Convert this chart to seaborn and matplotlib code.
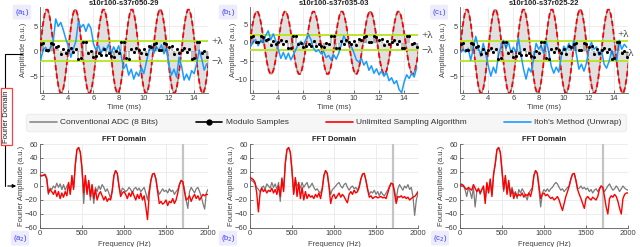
import numpy as np
import matplotlib
matplotlib.use("Agg")
import matplotlib.pyplot as plt
import seaborn as sns
from matplotlib.lines import Line2D
from matplotlib.patches import FancyArrowPatch
from matplotlib.legend_handler import HandlerLine2D

# ---- time domain data (ms, a.u.) ----
time_signal = np.linspace(1.7375, 15.2375, 109)
signal = [
    0, 2.91, 5.46, 7.36, 8.37, 8.37, 7.36, 5.46, 2.91, 0, -2.91, -5.46, -7.36, -8.37, -8.37, -7.36, -5.46, -2.91,
    0, 2.91, 5.46, 7.36, 8.37, 8.37, 7.36, 5.46, 2.91, 0, -2.91, -5.46, -7.36, -8.37, -8.37, -7.36, -5.46, -2.91,
    0, 2.91, 5.46, 7.36, 8.37, 8.37, 7.36, 5.46, 2.91, 0, -2.91, -5.46, -7.36, -8.37, -8.37, -7.36, -5.46, -2.91,
    0, 2.91, 5.46, 7.36, 8.37, 8.37, 7.36, 5.46, 2.91, 0, -2.91, -5.46, -7.36, -8.37, -8.37, -7.36, -5.46, -2.91,
    0, 2.91, 5.46, 7.36, 8.37, 8.37, 7.36, 5.46, 2.91, 0, -2.91, -5.46, -7.36, -8.37, -8.37, -7.36, -5.46, -2.91,
    0, 2.91, 5.46, 7.36, 8.37, 8.37, 7.36, 5.46, 2.91, 0, -2.91, -5.46, -7.36, -8.37, -8.37, -7.36, -5.46, -2.91,
    0,
]

time_samples = np.linspace(1.8, 15.0, 67)
modulo_samples = [
    1.48, 1.69, 0.17, 0.17, 1.69, 1.48, 0.82, 1.12, -0.48, 0.49,
    -0.25, 0.30, 0.75, -0.23, 0.42, -1.49, -1.37, 1.94, 1.89, -0.31,
    0.01, -1.23, -0.89, -0.27, -0.79, 0.50, -0.79, -0.27, -0.89, -1.23,
    0.01, -0.31, 1.89, 1.94, -1.37, -1.49, 0.42, -0.23, 0.75, 0.30,
    -0.25, 0.49, -0.48, 1.12, 0.82, 1.48, 1.69, 0.17, 0.17, 1.69,
    1.48, 0.82, 1.12, -0.48, 0.49, -0.25, 0.30, 0.75, -0.23, 0.42,
    -1.49, -1.37, 1.94, 1.89, -0.31, 0.01, -1.23,
]

itoh_a = [
    -1.8, 0.3, 0.8, -0.2, 0.9, 2.0, 6.5, 5.0, 5.8, 4.3,
    2.5, 1.0, -1.2, 0.5, 2.0, 6.0, 4.8, 5.4, 4.0, 5.5,
    4.6, 1.5, 0.2, 1.2, -0.4, 0.8, 0.1, 1.4, -0.6, 0.9,
    -0.2, 1.1, -0.8, -3.5, -2.6, -4.8, -3.6, -5.6, -4.2, -5.0,
    -3.2, -4.5, -2.2, 0.0, 1.2, -0.4, 0.9, 0.2, 1.3, -0.5,
    0.6, -2.8, -4.8, -3.6, -5.2, -1.2, -3.0, -5.8, -4.6, -5.8,
    -3.9, -4.5, -2.5, 0.2, -1.5, -3.8, -2.5,
]
itoh_b = [
    -1.0, 0.2, 0.9, -0.8, 0.6, 0.0, 2.0, 3.2, 0.8, 2.4,
    0.5, -1.8, -4.2, -2.6, -4.4, -2.8, -4.6, -3.2, -1.8, -0.2,
    0.4, -0.6, 1.0, 2.2, 0.8, -1.5, -2.4, -1.9, -3.0, -2.3,
    -4.0, -3.4, -4.6, -3.2, -4.4, -2.8, -0.6, 1.8, 0.6, 0.0,
    -1.0, -2.6, -4.6, -5.2, -4.2, -6.0, -5.0, -7.4, -6.2, -8.2,
    -7.0, -8.6, -7.6, -9.0, -8.0, -10.2, -9.4, -11.0, -10.2, -12.6,
    -13.4, -10.5, -8.6, -9.6, -8.2, -9.2, -6.6,
]
itoh_c = [
    -0.3, 0.4, -0.2, 0.6, -1.8, 0.5, 3.0, 0.8, -1.0, 1.6,
    -0.6, -3.0, -5.0, -3.2, -4.4, -1.0, 1.0, 2.2, 0.6, 1.8,
    -0.2, 0.8, -0.3, 2.6, -0.8, -3.6, -5.6, -3.4, -4.2, -1.6,
    1.6, 0.4, 1.2, -0.4, 2.0, 0.0, -3.0, -4.4, -3.2, -4.2,
    -1.0, 1.0, 0.2, 1.6, 0.3, 2.2, -0.6, -3.6, -2.6, -4.0,
    -2.4, 0.6, 1.8, 0.4, 0.9, -0.8, 0.2, -2.6, -3.4, -2.0,
    0.2, -1.2, -2.0, 2.2, 0.4, 1.4, 0.8,
]
titles = ["s10r100-s37r050-29", "s10r100-s37r035-03", "s10r100-s37r025-22"]

# ---- FFT data (Hz, a.u.) ----
freq = np.linspace(0, 2000, 101)
fft_gray_a = [
    14, 14, 16, 17, 12, -12, -3, -5, 0, -3,
    4, -2, 3, -5, 2, -6, 0, 3, -10, 8,
    -2, 30, 52, 55, 48, 25, -25, 10, -5, 5,
    -20, 0, -25, -2, -8, 0, -5, 2, -2, -8,
    -4, -10, -18, -5, 15, 22, 18, 0, -12, -3,
    -5, -8, -6, -2, -5, -10, -4, -2, -6, -3,
    -8, -5, -2, -10, -20, -5, 8, 17, 18, 10,
    -5, -12, -8, -4, -8, -6, -10, -4, -8, -6,
    -12, -8, -5, 2, 8, 6, -5, -20, -32, -8,
    -2, -6, -10, -4, -2, -8, -15, -25, -33, -10,
    -5,
]
fft_red_a = [
    15, 15, 15, 16, 10, -10, -5, -8, -12, -6,
    -15, -8, -18, -10, -16, -8, -14, 5, -12, 15,
    -5, 30, 52, 55, 48, 25, -10, 15, -12, 8,
    -15, 2, -18, -5, -20, -12, -8, -14, -20, -15,
    -22, -18, -20, -8, 15, 22, 18, 0, -15, -10,
    -8, -12, -18, -10, -15, -8, -14, -20, -12, -18,
    -10, -20, -14, -30, -48, -12, 8, 17, 18, 10,
    -8, -25, -22, -26, -24, -20, -28, -22, -24, -18,
    -25, -20, -10, 2, 8, 6, -8, -20, -18, -14,
    -22, -16, -12, -18, -14, -20, -16, -12, -14, -12,
    -12,
]
fft_gray_b = [
    10, 8, 6, 3, -2, -5, -8, -2, 0, -5,
    3, 0, -3, 5, -2, 3, -5, 5, -22, 12,
    -5, 32, 52, 55, 48, 22, -10, 10, 0, 3,
    -3, 5, -2, 2, 5, -3, 0, 4, -2, -6,
    -4, -8, -10, -3, 15, 22, 18, 0, -12, -5,
    -3, 0, 3, 5, 0, -3, 2, 4, -2, -6,
    -2, 0, -4, -2, -6, 0, 10, 17, 18, 8,
    -4, -12, -8, -10, -6, -12, -8, -14, -8, -12,
    -14, -10, -6, 0, 4, 3, -6, -20, -4, 2,
    -2, -6, 0, -3, 2, -5, -2, -15, -42, -20,
    -10,
]
fft_red_b = [
    12, 11, 9, 5, -10, -37, -10, -3, -8, -5,
    -10, -6, -8, -3, -10, -5, -12, 0, -15, 10,
    -8, 32, 52, 55, 48, 22, -12, 12, -15, 5,
    -18, -2, -20, -8, -18, -12, -16, -14, -18, -12,
    -16, -10, -18, -5, 15, 22, 18, 0, -25, -15,
    -12, -18, -14, -10, -16, -12, -15, -20, -24, -12,
    -8, -12, -6, -10, -8, -2, 10, 17, 18, 8,
    -5, -16, -14, -18, -16, -15, -17, -16, -15, -17,
    -16, -18, -10, -2, 4, 3, -10, -25, -15, -16,
    -14, -17, -15, -18, -16, -20, -18, -16, -15, -12,
    -8,
]
fft_gray_c = [
    2, 3, 0, -5, -15, -3, -8, -18, -2, -30,
    -8, -3, -12, -5, -2, -20, 3, -8, 8, -12,
    15, 32, 52, 55, 48, 22, -8, 12, -10, 5,
    -8, -2, -12, -8, -18, -5, -10, -4, -8, -14,
    -20, -10, -6, -3, 15, 22, 18, -5, -30, -10,
    -5, -8, -4, -8, -4, -2, 2, 5, 3, -2,
    -6, -4, -8, -5, -2, 0, 10, 17, 18, 8,
    -4, -3, 0, -4, -2, -5, -3, -8, -5, -10,
    -6, -4, -8, -3, 0, -2, -8, -4, 0, 3,
    -2, -6, -4, 0, -3, -8, -4, 0, -3, -5,
    -6,
]
fft_red_c = [
    0, 2, 1, -3, -5, -2, -4, -6, 2, -3,
    -8, -4, -10, -5, 0, -25, 5, -10, 10, -15,
    18, 32, 52, 55, 48, 22, -5, 15, -12, 8,
    -15, -5, -18, -10, -15, -12, -14, -10, -16, -12,
    -14, -10, -15, -5, 15, 22, 18, 0, -18, -12,
    -10, -14, -12, -15, -18, -16, -20, -18, -15, -20,
    -28, -35, -25, -15, -8, 0, 10, 17, 18, 8,
    -5, -12, -18, -25, -32, -18, -15, -18, -20, -16,
    -18, -20, -15, -5, 0, -2, -15, -30, -40, -18,
    -14, -16, -12, -15, -22, -32, -40, -18, -12, -10,
    -10,
]

GRAY = "#8a8a8a"
RED = "#ff0000"
BLUE = "#1a9cff"
GREEN = "#b5e61d"
TXT = "#404040"

sns.set_theme(style="ticks")
plt.rcParams["font.family"] = ["Liberation Sans", "DejaVu Sans"]
plt.rcParams["axes.linewidth"] = 0.6


def style_axes(ax):
    sns.despine(ax=ax)
    for s in ("left", "bottom"):
        ax.spines[s].set_color("#5a5a5a")
    ax.tick_params(direction="in", length=2, width=0.5, labelsize=5.5,
                   colors=TXT, pad=1.5)
    ax.grid(True, color="#e6e6e6", lw=0.5)
    ax.set_axisbelow(True)


def time_panel(ax, itoh, ylim, yticks, title):
    ax.fill_between(time_signal, 0, signal, color="#e0e0e0", lw=0, zorder=1)
    sns.lineplot(x=time_signal, y=signal, color=GRAY, lw=0.8, ax=ax, zorder=2)
    sns.lineplot(x=time_signal, y=signal, color=RED, lw=1.3, ax=ax, zorder=3)
    ax.lines[-1].set_dashes((3, 1.6))
    ax.axhline(2, color=GREEN, lw=1.3, zorder=3)
    ax.axhline(-2, color=GREEN, lw=1.3, zorder=3)
    sns.lineplot(x=time_samples, y=itoh, color=BLUE, lw=1.1, ax=ax, zorder=4)
    ax.vlines(time_samples, 0, modulo_samples, color="black", lw=0.35, zorder=5)
    sns.scatterplot(x=time_samples, y=modulo_samples, color="black", s=5,
                    linewidth=0, ax=ax, zorder=6)
    ax.set_xlim(1.75, 15.1)
    ax.set_ylim(*ylim)
    ax.set_xticks([2, 4, 6, 8, 10, 12, 14])
    ax.set_yticks(yticks)
    style_axes(ax)
    ax.set_title(title, fontsize=5.5, fontweight="bold", pad=1.5, color="#222222")
    ax.set_xlabel("Time (ms)", fontsize=5.5, color=TXT)
    ax.set_ylabel("Amplitude (a.u.)", fontsize=5.5, color=TXT)
    ax.xaxis.set_label_coords(0.5, -0.13)
    ax.yaxis.set_label_coords(-0.075, 0.5)


def fft_panel(ax, gray, red):
    ax.axvline(1700, color="#c4c4c4", lw=1.6, zorder=1)
    sns.lineplot(x=freq, y=gray, color="#7a7a7a", lw=0.9, ax=ax, zorder=2)
    sns.lineplot(x=freq, y=red, color=RED, lw=1.0, ax=ax, zorder=3)
    ax.set_xlim(0, 2000)
    ax.set_ylim(-60, 60)
    ax.set_xticks([0, 500, 1000, 1500, 2000])
    ax.set_yticks([-60, -40, -20, 0, 20, 40, 60])
    style_axes(ax)
    ax.set_title("FFT Domain", fontsize=5.5, fontweight="bold", pad=2, color="#222222")
    ax.set_xlabel("Frequency (Hz)", fontsize=5.5, color=TXT)
    ax.set_ylabel("Fourier Amplitude (a.u.)", fontsize=5.5, color=TXT)
    ax.xaxis.set_label_coords(0.5, -0.155)
    ax.yaxis.set_label_coords(-0.09, 0.5)


class StemHandler(HandlerLine2D):
    def get_xdata(self, legend, xdescent, ydescent, width, height, fontsize):
        return [-xdescent, -xdescent + width], [-xdescent + width]


fig = plt.figure(figsize=(6.4, 2.47), dpi=100)
lefts = [40 / 640, 250 / 640, 460 / 640]
w = 168 / 640
top_axes = [fig.add_axes([l, 0.6235, w, 0.348]) for l in lefts]
bot_axes = [fig.add_axes([l, 0.077, w, 0.340]) for l in lefts]

time_panel(top_axes[0], itoh_a, (-8.4, 8.9), [-5, 0, 5], titles[0])
time_panel(top_axes[1], itoh_b, (-13.5, 9.6), [-10, -5, 0, 5], titles[1])
time_panel(top_axes[2], itoh_c, (-8.4, 8.9), [-5, 0, 5], titles[2])

fft_panel(bot_axes[0], fft_gray_a, fft_red_a)
fft_panel(bot_axes[1], fft_gray_b, fft_red_b)
fft_panel(bot_axes[2], fft_gray_c, fft_red_c)

# lambda labels
lam = dict(fontsize=8, family=["Liberation Serif", "DejaVu Serif"], color="#333333",
           va="center", ha="left", clip_on=False)
for ax in top_axes[:2]:
    tr = ax.get_yaxis_transform()
    ax.text(1.02, 2, "+λ", transform=tr, **lam)
    ax.text(1.02, -2, "−λ", transform=tr, **lam)
tr = top_axes[2].get_yaxis_transform()
top_axes[2].text(0.94, 3.4, "+λ", transform=tr, **lam)
top_axes[2].text(0.965, -0.4, "−λ", transform=tr, **lam)

# panel tags
tag = dict(fontsize=5.5, color="#3a3aff", ha="center", va="center",
           bbox=dict(boxstyle="round,pad=0.25", fc="#ececfd", ec="none"))
for x, s in zip([22, 228, 439], ["(a$_1$)", "(b$_1$)", "(c$_1$)"]):
    fig.text(x / 640, 0.951, s, **tag)
for x, s in zip([20, 228, 440], ["(a$_2$)", "(b$_2$)", "(c$_2$)"]):
    fig.text(x / 640, 0.036, s, **tag)

# legend
handles = [
    Line2D([], [], color=GRAY, lw=1.2),
    Line2D([], [], color="black", lw=1.2, marker="o", ms=3.5),
    Line2D([], [], color=RED, lw=1.2),
    Line2D([], [], color=BLUE, lw=1.2),
]
labels = ["Conventional ADC (8 Bits)", "Modulo Samples",
          "Unlimited Sampling Algorithm", "Itoh's Method (Unwrap)"]
leg = fig.legend(handles, labels, loc="center", ncol=4, mode="expand",
                 bbox_to_anchor=(22 / 640, 0.465, 608 / 640, 0.078),
                 fontsize=6, handlelength=3.2, handletextpad=0.4,
                 frameon=True, fancybox=True, facecolor="#f4f4f4",
                 edgecolor="#ebebeb", borderpad=0.5, numpoints=1,
                 handler_map={handles[1]: StemHandler()})
for t in leg.get_texts():
    t.set_color("#333333")

# "Fourier Domain" bracket
fig.text(6.5 / 640, 0.528, "Fourier Domain", rotation=90, fontsize=5.5,
         ha="center", va="center", color="#222222",
         bbox=dict(boxstyle="square,pad=0.3", fc="white", ec="#ff4040", lw=0.9))
x0 = 5 / 640
fig.add_artist(Line2D([x0, x0, 22 / 640], [0.62, 0.781, 0.781],
                      transform=fig.transFigure, color="black", lw=0.8))
fig.add_artist(Line2D([x0, x0], [0.43, 0.247], transform=fig.transFigure,
                      color="black", lw=0.8))
fig.add_artist(FancyArrowPatch((x0, 0.247), (19 / 640, 0.247),
                               transform=fig.transFigure, arrowstyle="-|>",
                               mutation_scale=5, lw=0.8, color="black"))

fig.savefig("out.png", dpi=100)
